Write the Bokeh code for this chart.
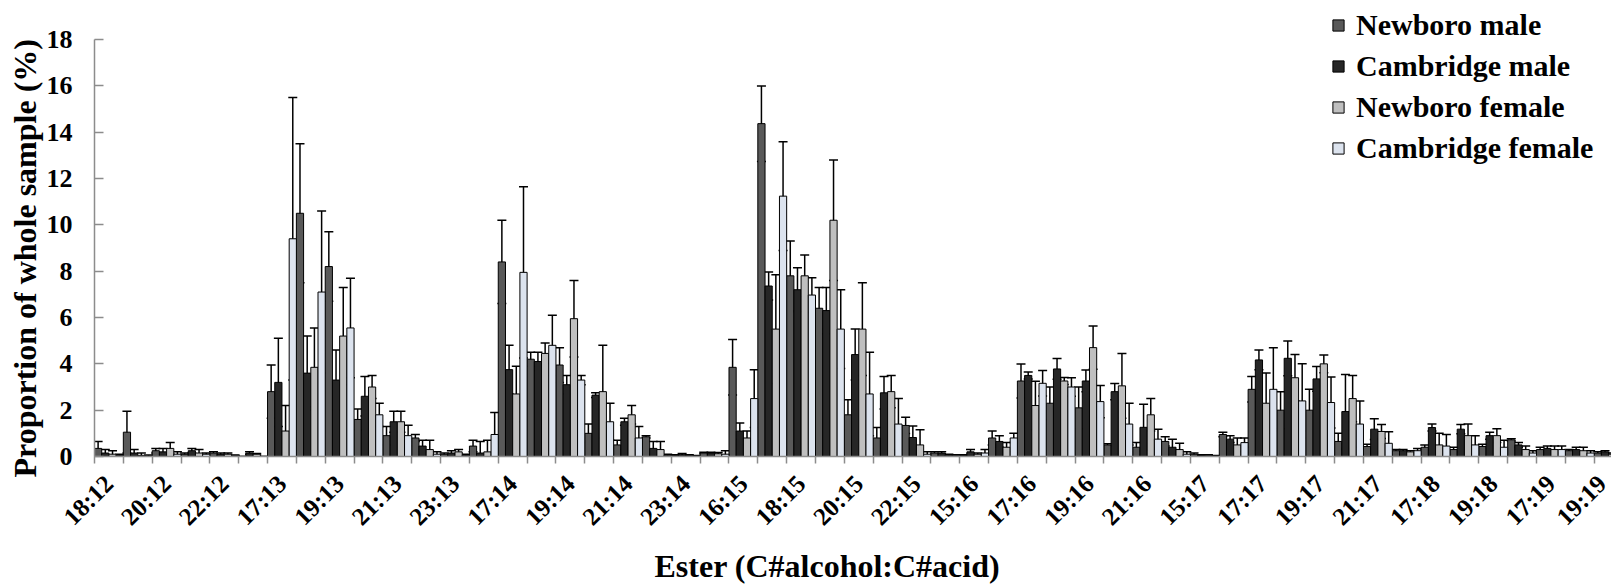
from bokeh.plotting import figure
from bokeh.models import ColumnDataSource, Range1d, FixedTicker, Whisker, TeeHead, Title
from bokeh.transform import dodge
from bokeh.embed import file_html
from bokeh.resources import INLINE

esters = ["18:12", "19:12", "20:12", "21:12", "22:12", "23:12",
          "17:13", "18:13", "19:13", "20:13", "21:13", "22:13", "23:13",
          "16:14", "17:14", "18:14", "19:14", "20:14", "21:14", "22:14", "23:14",
          "15:15", "16:15", "17:15", "18:15", "19:15", "20:15", "21:15", "22:15", "23:15",
          "15:16", "16:16", "17:16", "18:16", "19:16", "20:16", "21:16", "22:16",
          "15:17", "16:17", "17:17", "18:17", "19:17", "20:17", "21:17", "22:17",
          "17:18", "18:18", "19:18", "20:18",
          "17:19", "18:19", "19:19"]

newboro_male = [0.35, 1.05, 0.25, 0.1, 0.15, 0.0,
                2.8, 10.5, 8.2, 1.6, 0.9, 0.8, 0.1,
                0.45, 8.4, 4.2, 3.95, 1.0, 0.5, 0.85, 0.05,
                0.15, 3.85, 14.37, 7.8, 6.4, 1.8, 0.8, 1.34, 0.15,
                0.05, 0.8, 3.26, 2.3, 2.1, 0.5, 0.4, 0.65,
                0.1, 0.95, 2.9, 2.0, 2.0, 0.65, 0.43, 0.25,
                0.4, 0.3, 0.43, 0.72,
                0.3, 0.25, 0.15]
newboro_male_sd = [0.3, 0.9, 0.1, 0.05, 0.05, 0.0,
                   1.15, 3.0, 1.5, 0.45, 0.4, 0.15, 0.05,
                   0.25, 1.8, 0.3, 0.75, 0.4, 0.2, 0.05, 0.03,
                   0.03, 1.2, 1.63, 1.5, 0.9, 0.65, 0.45, 0.35, 0.05,
                   0.03, 0.3, 0.73, 0.7, 0.9, 0.05, 0.2, 0.2,
                   0.05, 0.1, 0.55, 0.8, 0.9, 0.35, 0.1, 0.05,
                   0.1, 0.1, 0.1, 0.05,
                   0.1, 0.05, 0.05]

cambridge_male = [0.15, 0.15, 0.2, 0.25, 0.1, 0.15,
                  3.2, 3.6, 3.3, 2.6, 1.5, 0.45, 0.15,
                  0.15, 3.75, 4.1, 3.1, 2.65, 1.5, 0.35, 0.08,
                  0.15, 1.1, 7.36, 7.2, 6.3, 4.4, 2.75, 0.82, 0.15,
                  0.2, 0.65, 3.5, 3.78, 3.26, 2.8, 1.26, 0.4,
                  0.05, 0.75, 4.17, 4.24, 3.35, 1.94, 1.18, 0.25,
                  1.25, 1.18, 0.9, 0.5,
                  0.35, 0.3, 0.2]
cambridge_male_sd = [0.15, 0.15, 0.15, 0.1, 0.05, 0.05,
                     1.9, 1.6, 1.3, 0.85, 0.45, 0.25, 0.1,
                     0.5, 1.05, 0.4, 0.4, 0.1, 0.15, 0.3, 0.05,
                     0.03, 0.35, 0.6, 0.95, 1.0, 1.1, 0.7, 0.5, 0.05,
                     0.1, 0.25, 0.15, 0.45, 0.47, 0.35, 1.0, 0.35,
                     0.03, 0.15, 0.43, 0.75, 0.53, 1.6, 0.45, 0.05,
                     0.15, 0.2, 0.15, 0.1,
                     0.1, 0.1, 0.05]

newboro_female = [0.1, 0.05, 0.35, 0.15, 0.1, 0.1,
                  1.1, 3.85, 5.2, 3.0, 1.5, 0.3, 0.2,
                  0.2, 2.7, 4.45, 5.95, 2.8, 1.8, 0.3, 0.05,
                  0.12, 0.8, 5.5, 7.8, 10.2, 5.5, 2.8, 0.5, 0.05,
                  0.1, 0.4, 2.2, 3.26, 4.7, 3.05, 1.8, 0.3,
                  0.05, 0.5, 2.3, 3.4, 4.0, 2.5, 1.08, 0.2,
                  0.5, 0.9, 0.9, 0.3,
                  0.3, 0.25, 0.1]
newboro_female_sd = [0.15, 0.1, 0.25, 0.15, 0.05, 0.03,
                     1.1, 1.7, 2.1, 0.5, 0.45, 0.4, 0.1,
                     0.5, 1.2, 0.45, 1.65, 2.0, 0.4, 0.35, 0.03,
                     0.05, 0.3, 2.35, 0.9, 2.6, 2.0, 0.7, 0.65, 0.05,
                     0.05, 0.2, 1.05, 0.15, 0.93, 1.4, 0.7, 0.27,
                     0.03, 0.3, 1.3, 1.0, 0.38, 1.0, 0.3, 0.05,
                     0.5, 0.5, 0.3, 0.15,
                     0.15, 0.15, 0.05]

cambridge_female = [0.05, 0.02, 0.1, 0.1, 0.05, 0.0,
                    9.4, 7.1, 5.55, 1.8, 0.9, 0.1, 0.05,
                    0.95, 7.95, 4.8, 3.3, 1.5, 0.8, 0.05, 0.02,
                    0.1, 2.5, 11.24, 6.97, 5.5, 2.7, 1.4, 0.1, 0.05,
                    0.15, 0.8, 3.16, 3.0, 2.37, 1.4, 0.75, 0.1,
                    0.02, 0.6, 2.9, 2.4, 2.33, 1.4, 0.57, 0.25,
                    0.45, 0.5, 0.4, 0.15,
                    0.3, 0.15, 0.1]
cambridge_female_sd = [0.05, 0.05, 0.1, 0.05, 0.02, 0.0,
                       6.1, 3.5, 2.15, 0.5, 0.45, 0.1, 0.05,
                       0.95, 3.7, 1.3, 0.2, 0.8, 0.5, 0.05, 0.02,
                       0.15, 1.25, 2.35, 0.75, 1.7, 1.8, 1.1, 0.1, 0.03,
                       0.15, 0.2, 0.55, 0.4, 0.7, 0.9, 0.43, 0.1,
                       0.02, 0.2, 1.8, 1.6, 1.1, 1.0, 0.5, 0.1,
                       0.5, 0.4, 0.3, 0.1,
                       0.15, 0.1, 0.05]

series_names = ["Newboro male", "Cambridge male", "Newboro female", "Cambridge female"]
series_values = [newboro_male, cambridge_male, newboro_female, cambridge_female]
series_sd = [newboro_male_sd, cambridge_male_sd, newboro_female_sd, cambridge_female_sd]
colors = ["#595959", "#262626", "#BFBFBF", "#DCE3EE"]
offsets = [-0.375, -0.125, 0.125, 0.375]
y_ticks = list(range(0, 19, 2))

FONT = "Liberation Serif"
n = len(esters)
centers = [i + 0.5 for i in range(n)]

p = figure(width=1611, height=586, output_backend="svg", toolbar_location=None,
           x_range=Range1d(0, 52.6), y_range=Range1d(0, 19.47),
           min_border_left=94, min_border_top=5, min_border_right=0, min_border_bottom=10)

for name, vals, sds, col, off in zip(series_names, series_values, series_sd, colors, offsets):
    src = ColumnDataSource(dict(
        x=centers, top=vals,
        up=[v + s for v, s in zip(vals, sds)],
        lo=[max(v - s, 0) for v, s in zip(vals, sds)]))
    p.vbar(x=dodge("x", off), top="top", width=0.25, source=src,
           fill_color=col, line_color="black", line_width=1, legend_label=name)
    p.add_layout(Whisker(source=src, base=dodge("x", off), upper="up", lower="lo",
                         dimension="height", line_color="black", line_width=1.5,
                         upper_head=TeeHead(size=9, line_color="black", line_width=1.5),
                         lower_head=TeeHead(size=9, line_color="black", line_width=1.5)))

# x axis: labels every other ester, tick marks at category boundaries
label_pos = [centers[i] for i in range(0, n, 2)]
p.xaxis.ticker = FixedTicker(ticks=label_pos, minor_ticks=list(range(n)))
p.xaxis.major_label_overrides = {centers[i]: esters[i] for i in range(0, n, 2)}
p.xaxis.major_label_orientation = 0.785398
p.xaxis.major_tick_out = 0
p.xaxis.major_tick_in = 0
p.xaxis.minor_tick_out = 7
p.xaxis.minor_tick_in = 0
p.xaxis.minor_tick_line_color = "#8c8c8c"
p.xaxis.minor_tick_line_width = 1.5
p.xaxis.major_label_standoff = 16

p.yaxis.ticker = FixedTicker(ticks=y_ticks)
p.yaxis.bounds = (0, 18)
p.yaxis.major_tick_in = 9
p.yaxis.major_tick_out = 0
p.yaxis.minor_tick_in = 0
p.yaxis.minor_tick_out = 0
p.yaxis.major_tick_line_color = "#8c8c8c"
p.yaxis.major_tick_line_width = 1.5
p.yaxis.major_label_standoff = 22

for ax in (p.xaxis[0], p.yaxis[0]):
    ax.axis_line_color = "#8c8c8c"
    ax.axis_line_width = 1.5
    ax.major_label_text_font = FONT
    ax.major_label_text_font_style = "bold"
    ax.major_label_text_color = "black"

p.xaxis.major_label_text_font_size = "25px"
p.yaxis.major_label_text_font_size = "26px"

# axis titles as side titles (so they can be offset like the original)
ytitle = Title(text="Proportion of whole sample (%)", align="left", offset=-21,
               vertical_align="middle", standoff=0,
               text_font=FONT, text_font_style="bold", text_font_size="32px", text_color="black")
p.add_layout(ytitle, "left")
xtitle = Title(text="Ester (C#alcohol:C#acid)", align="left", offset=560,
               vertical_align="bottom", standoff=6,
               text_font=FONT, text_font_style="bold", text_font_size="32px", text_color="black")
p.add_layout(xtitle, "below")

p.xgrid.visible = False
p.ygrid.visible = False
p.outline_line_color = None

lg = p.legend[0]
lg.location = (1237, 291)
lg.margin = 0
lg.padding = 0
lg.spacing = 7
lg.glyph_width = 14
lg.glyph_height = 14
lg.label_standoff = 11
lg.label_height = 30
lg.label_text_font = FONT
lg.label_text_font_style = "bold"
lg.label_text_font_size = "30px"
lg.label_text_color = "black"
lg.background_fill_alpha = 0
lg.border_line_alpha = 0

open("out.html", "w").write(file_html(p, INLINE))
